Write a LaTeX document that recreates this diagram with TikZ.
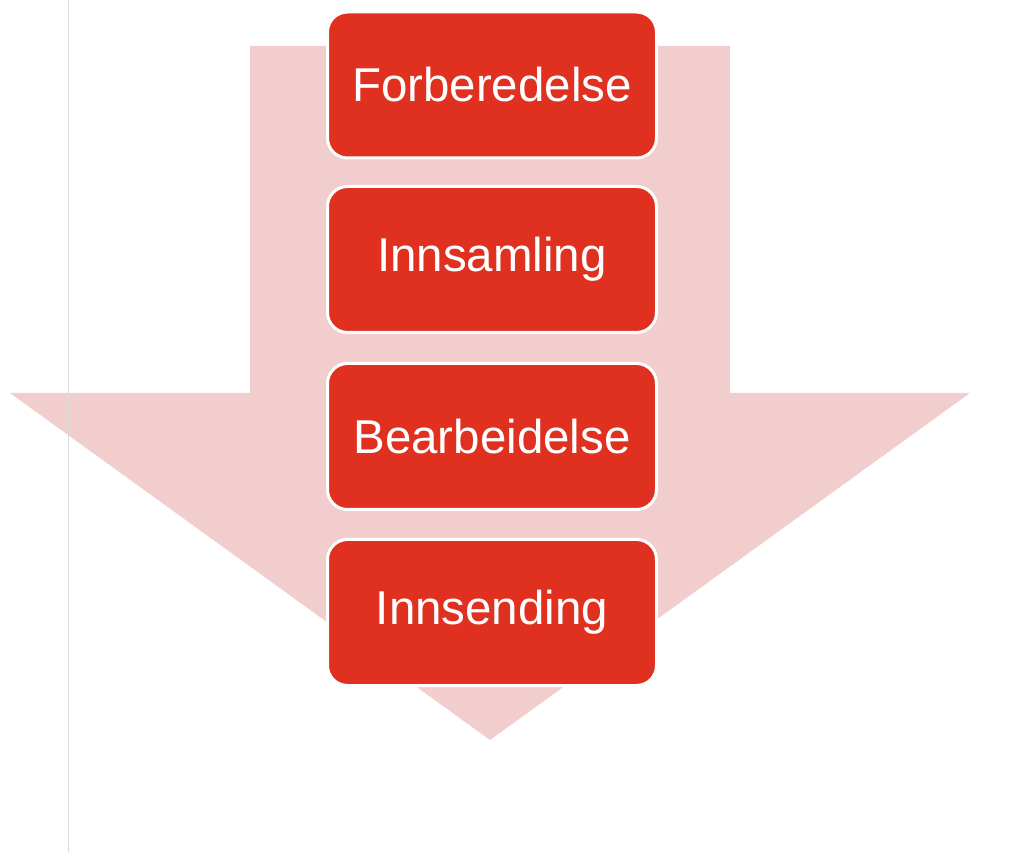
\documentclass[tikz,border=0pt]{standalone}
\usepackage{fontspec}
\setmainfont{Liberation Sans}
\definecolor{stepRed}{HTML}{E03120}
\definecolor{arrowPink}{HTML}{F2CDCD}
\definecolor{ruleGray}{HTML}{DADADA}
\begin{document}
\begin{tikzpicture}
[x=0.75pt,y=-0.75pt,
  arrowDecorate/.style={fill=arrowPink},%
  boxDecorate/.style={shape=rectangle,rounded corners=15pt,draw=white,line width=2.25pt,
    fill=stepRed,text=white,minimum width=246.75pt,minimum height=109.5pt,
    inner sep=0pt,font=\fontsize{35.6}{40}\selectfont},
  scale=1]
\useasboundingbox (0,0) rectangle (1033,852);
%% big arrow behind the steps
\fill[arrowDecorate] (250,46) -- (730,46) -- (730,393) -- (970,393)
  -- (490,740) -- (10,393) -- (250,393) -- cycle;
%% thin rule at the left
\draw[ruleGray,line width=0.75pt] (68.5,0) -- (68.5,852);
%% steps
\foreach \nodename/\y/\txt in {
  forberedelse/85/Forberedelse, innsamling/259.5/Innsamling,
  bearbeidelse/436.5/Bearbeidelse, innsending/612.5/Innsending}
{
  \node (\nodename) at (492,\y) [boxDecorate] {\txt};
}
\end{tikzpicture}
\end{document}
